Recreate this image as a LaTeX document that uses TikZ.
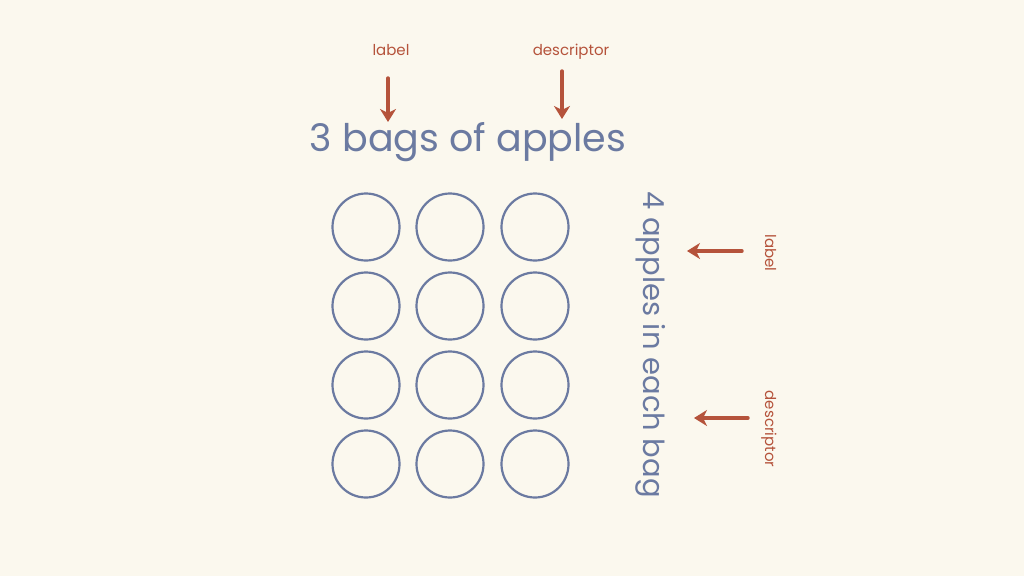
\documentclass[tikz,border=0pt]{standalone}
\usepackage{fontspec}
\setmainfont{Poppins}
\usetikzlibrary{arrows.meta}

\definecolor{paper}{HTML}{FBF8EE}
\definecolor{slate}{HTML}{6B7AA1}
\definecolor{rust}{HTML}{B5533B}

\begin{document}
\begin{tikzpicture}[x=1pt, y=-1pt,
    apple/.style={circle, draw=slate, line width=2.2pt, minimum size=67pt, inner sep=0pt},
    big/.style={text=slate, font=\fontsize{38}{46}\selectfont, inner sep=0pt},
    side/.style={text=slate, font=\fontsize{29}{35}\selectfont, inner sep=0pt},
    note/.style={text=rust, font=\fontsize{15}{18}\selectfont, inner sep=0pt},
    pointer/.style={draw=rust, line width=3.4pt, line cap=round,
                    -{Stealth[length=13pt, width=16pt, inset=4pt]}}]
    \useasboundingbox[fill=paper] (0,0) rectangle (1024,576);

    % the 3 x 4 apples
    \foreach \col [count=\c] in {366,450,535}
        \foreach \row [count=\r] in {227,306,385,464}
            \node[apple] (apple-\c-\r) at (\col,\row) {};

    \node[big, anchor=base] (bags) at (468,151) {3 bags of apples};
    \node[side, anchor=base west, rotate=-90] (each) at (643,191) {4 apples in each bag};

    % notes along the top
    \node[note, anchor=base] (lbl-top) at (391,55) {label};
    \node[note, anchor=base] (dsc-top) at (571,55) {descriptor};
    \coordinate (lbl-top-tail) at (388,78);
    \coordinate (lbl-top-tip)  at (388,122);
    \coordinate (dsc-top-tail) at (562,71);
    \coordinate (dsc-top-tip)  at (562,119);
    \draw[pointer] (lbl-top-tail) -- (lbl-top-tip);
    \draw[pointer] (dsc-top-tail) -- (dsc-top-tip);

    % notes along the right
    \node[note, anchor=base, rotate=-90] (lbl-side) at (765,253) {label};
    \node[note, anchor=base, rotate=-90] (dsc-side) at (765,429) {descriptor};
    \coordinate (lbl-side-tail) at (742,251);
    \coordinate (lbl-side-tip)  at (687,251);
    \coordinate (dsc-side-tail) at (748,418);
    \coordinate (dsc-side-tip)  at (694,418);
    \draw[pointer] (lbl-side-tail) -- (lbl-side-tip);
    \draw[pointer] (dsc-side-tail) -- (dsc-side-tip);
\end{tikzpicture}
\end{document}
